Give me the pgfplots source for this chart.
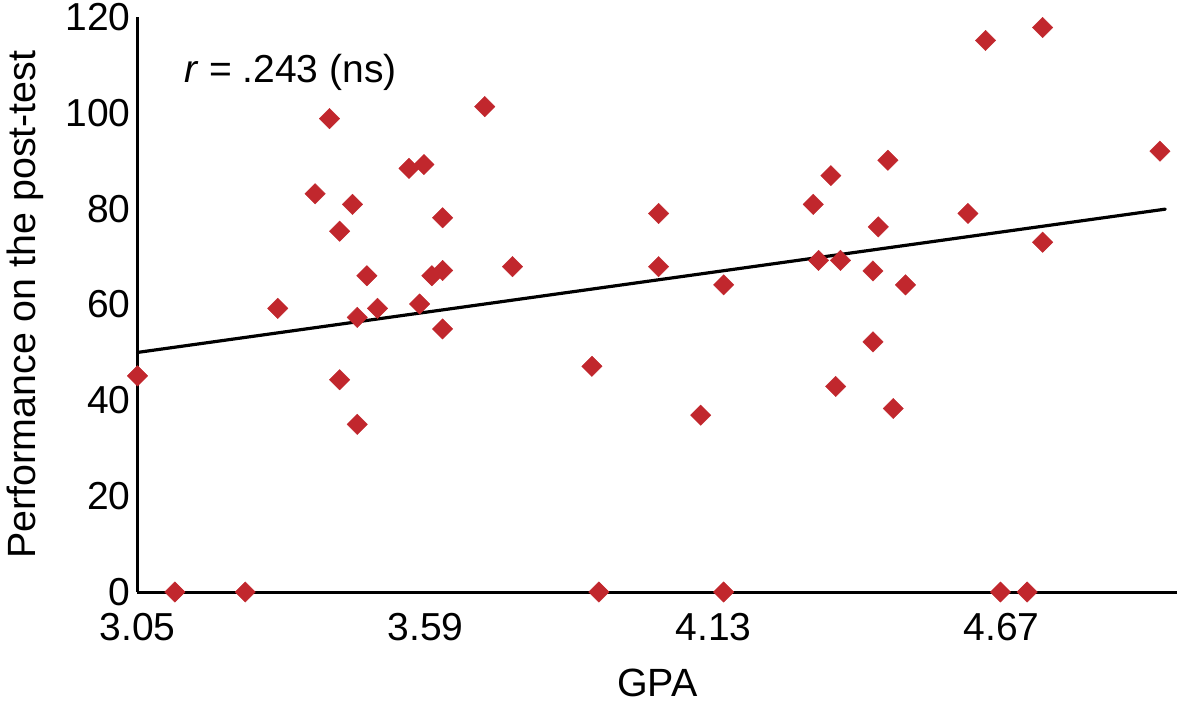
\documentclass[border=0pt]{standalone}
\usepackage{fontspec}
\setmainfont{Liberation Sans}
\usepackage{pgfplots}
\pgfplotsset{compat=1.18}
\definecolor{ptred}{RGB}{193,39,45}
\begin{document}
\begin{tikzpicture}[font=\fontsize{19.5}{23}\selectfont]
\useasboundingbox (-68.75pt,-58pt) rectangle (521.75pt,296pt);
\begin{axis}[
  at={(0,0)}, anchor=south west,
  scale only axis, width=519.75pt, height=287.5pt,
  xmin=3.05, xmax=4.999, ymin=0, ymax=120,
  axis x line*=bottom, axis y line*=left,
  axis line style={line width=1.5pt, -},
  xtick={3.05,3.59,4.13,4.67}, xticklabels={3.05,3.59,4.13,4.67},
  ytick={0,20,...,120},
  major tick length=0pt,
  /pgf/number format/assume math mode=true,
  tick label style={font=\fontsize{19.5}{23}\selectfont},
  xticklabel style={yshift=-7pt},
  xlabel={GPA}, ylabel={Performance on the post-test},
  label style={font=\fontsize{19.7}{23}\selectfont},
  xlabel style={at={(axis description cs:0.5,-0.1217)}, anchor=north},
  ylabel style={at={(axis description cs:-0.0832,0.5)}, anchor=south},
  clip=false,
]
\addplot[ptred, only marks, mark=square*, mark size=3.6pt,
  mark options={fill=ptred, draw=ptred, line width=0.2pt, rotate=45}] table {
x y
3.120 0
3.252 0
3.915 0
4.149 0
4.668 0
4.718 0
3.050 45.1
3.313 59.2
3.383 83.1
3.410 98.8
3.429 75.3
3.429 44.3
3.453 80.9
3.462 57.3
3.462 35.0
3.480 66.0
3.500 59.2
3.559 88.4
3.587 89.2
3.579 60.1
3.602 66.0
3.622 67.1
3.622 78.1
3.622 54.9
3.701 101.3
3.753 67.9
3.902 47.1
4.027 79.0
4.027 67.9
4.106 36.9
4.149 64.1
4.317 80.9
4.350 86.9
4.327 69.2
4.368 69.2
4.359 42.9
4.439 76.2
4.429 67.0
4.429 52.2
4.457 90.1
4.467 38.3
4.490 64.1
4.607 79.0
4.640 115.1
4.747 117.8
4.747 73.0
4.967 92.0
};
\addplot[black, line width=1.6pt, line cap=round] coordinates {(3.05,50.0) (4.977,79.9)};
\node[anchor=base west] at (axis cs:3.124,106.4) {\textit{r} = .243 (ns)};
\end{axis}
\end{tikzpicture}
\end{document}
